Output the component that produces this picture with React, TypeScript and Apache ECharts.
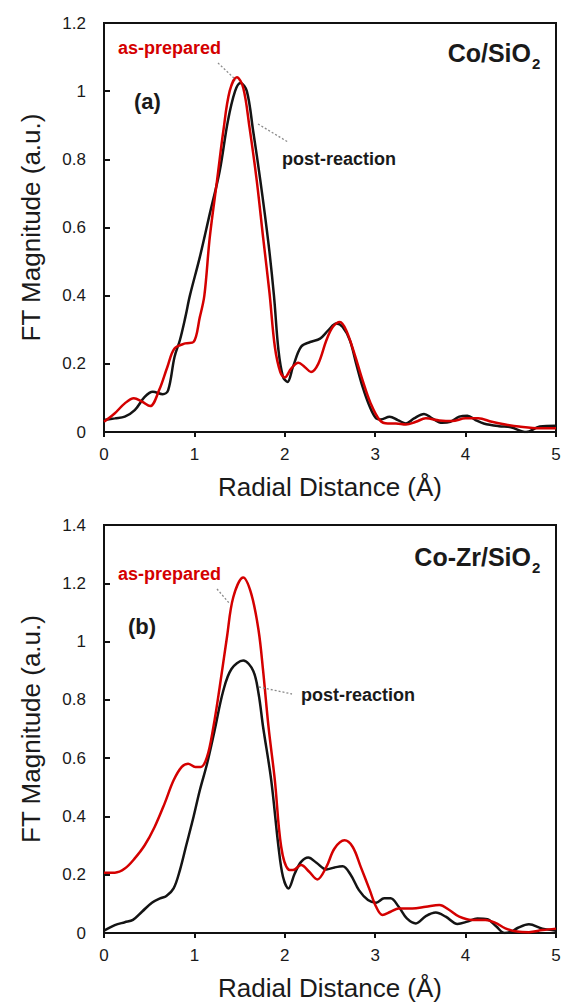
import React, { useEffect, useRef } from "react";
import * as echarts from "echarts";

// ---- Panel (a) Co/SiO2 ----
const aBlackX = [0, 0.12, 0.23, 0.34, 0.45, 0.54, 0.65, 0.71, 0.78, 0.84, 0.9, 0.95, 1.06, 1.17, 1.28, 1.37, 1.45, 1.51, 1.58, 1.65, 1.73, 1.82, 1.88, 1.93, 1.98, 2.03, 2.09, 2.18, 2.28, 2.39, 2.48, 2.57, 2.64, 2.72, 2.79, 2.86, 2.94, 3.01, 3.06, 3.16, 3.25, 3.34, 3.43, 3.54, 3.63, 3.74, 3.83, 3.93, 4.02, 4.11, 4.2, 4.37, 4.5, 4.67, 4.82, 5.0];
const aBlackY = [0.035, 0.04, 0.045, 0.064, 0.103, 0.118, 0.111, 0.123, 0.22, 0.27, 0.337, 0.4, 0.513, 0.64, 0.766, 0.912, 1.0, 1.024, 1.0, 0.883, 0.737, 0.552, 0.4, 0.24, 0.162, 0.147, 0.191, 0.25, 0.264, 0.274, 0.298, 0.318, 0.308, 0.269, 0.2, 0.133, 0.074, 0.04, 0.037, 0.045, 0.035, 0.025, 0.04, 0.053, 0.04, 0.027, 0.03, 0.045, 0.048, 0.035, 0.025, 0.017, 0.014, 0.0, 0.016, 0.018];
const aRedX = [0, 0.12, 0.23, 0.33, 0.42, 0.51, 0.61, 0.7, 0.78, 0.9, 0.99, 1.06, 1.11, 1.17, 1.25, 1.32, 1.39, 1.47, 1.54, 1.61, 1.69, 1.76, 1.83, 1.89, 1.95, 2.0, 2.07, 2.15, 2.22, 2.29, 2.37, 2.46, 2.53, 2.61, 2.68, 2.77, 2.86, 2.95, 3.05, 3.14, 3.23, 3.34, 3.45, 3.56, 3.71, 3.85, 4.0, 4.14, 4.29, 4.44, 4.59, 4.82, 5.0];
const aRedY = [0.03, 0.055, 0.084, 0.099, 0.089, 0.076, 0.123, 0.19, 0.245, 0.26, 0.264, 0.337, 0.4, 0.571, 0.737, 0.883, 1.0, 1.041, 1.01, 0.893, 0.737, 0.571, 0.41, 0.25, 0.176, 0.16, 0.186, 0.203, 0.191, 0.176, 0.2, 0.269, 0.308, 0.323, 0.298, 0.23, 0.152, 0.084, 0.035, 0.025, 0.025, 0.022, 0.03, 0.04, 0.034, 0.032, 0.04, 0.04, 0.03, 0.022, 0.016, 0.011, 0.011];

// ---- Panel (b) Co-Zr/SiO2 ----
const bBlackX = [0, 0.12, 0.23, 0.32, 0.42, 0.53, 0.62, 0.69, 0.77, 0.84, 0.91, 0.99, 1.06, 1.14, 1.22, 1.32, 1.41, 1.54, 1.65, 1.71, 1.76, 1.85, 1.93, 1.98, 2.04, 2.11, 2.18, 2.26, 2.35, 2.46, 2.55, 2.64, 2.73, 2.82, 2.92, 3.01, 3.1, 3.17, 3.26, 3.35, 3.45, 3.56, 3.67, 3.78, 3.91, 4.02, 4.13, 4.24, 4.34, 4.43, 4.51, 4.58, 4.7, 4.85, 5.0];
const bBlackY = [0.008, 0.027, 0.037, 0.045, 0.073, 0.104, 0.119, 0.127, 0.153, 0.216, 0.301, 0.398, 0.49, 0.581, 0.69, 0.832, 0.906, 0.935, 0.9, 0.821, 0.707, 0.524, 0.296, 0.193, 0.153, 0.204, 0.244, 0.259, 0.241, 0.218, 0.225, 0.229, 0.199, 0.147, 0.113, 0.104, 0.119, 0.119, 0.09, 0.05, 0.033, 0.058, 0.07, 0.056, 0.031, 0.039, 0.05, 0.047, 0.022, 0.0, 0.005, 0.018, 0.03, 0.015, 0.008];
const bRedX = [0, 0.12, 0.23, 0.34, 0.45, 0.56, 0.67, 0.77, 0.86, 0.93, 1.01, 1.07, 1.14, 1.21, 1.28, 1.36, 1.43, 1.54, 1.63, 1.71, 1.76, 1.82, 1.89, 1.96, 2.04, 2.09, 2.18, 2.27, 2.36, 2.46, 2.55, 2.66, 2.75, 2.84, 2.94, 3.01, 3.08, 3.17, 3.26, 3.41, 3.56, 3.71, 3.82, 3.93, 4.07, 4.22, 4.33, 4.44, 4.57, 4.7, 4.85, 5.0];
const bRedY = [0.207, 0.207, 0.221, 0.256, 0.301, 0.364, 0.444, 0.524, 0.57, 0.581, 0.57, 0.57, 0.604, 0.707, 0.844, 1.015, 1.152, 1.22, 1.163, 1.038, 0.9, 0.707, 0.524, 0.296, 0.218, 0.216, 0.233, 0.21, 0.184, 0.227, 0.29, 0.318, 0.296, 0.227, 0.147, 0.09, 0.062, 0.073, 0.084, 0.084, 0.09, 0.096, 0.079, 0.056, 0.045, 0.045, 0.035, 0.016, 0.005, 0.003, 0.01, 0.015];

const xTicks = [0, 1, 2, 3, 4, 5];
const yMaxA = 1.2;
const yMaxB = 1.4;
const xTitle = "Radial Distance (Å)";
const yTitle = "FT Magnitude (a.u.)";
const seriesNames = ["post-reaction", "as-prepared"];
const panelTags = ["(a)", "(b)"];
const panelTitles = ["Co/SiO", "Co-Zr/SiO"];

const FONT = "'Liberation Sans', Arial, Helvetica, sans-serif";
const BLACK = "#141414";
const RED = "#d40000";

const zip = (xs: number[], ys: number[]) => xs.map((x, i) => [x, ys[i]]);

export default function App() {
  const ref = useRef<HTMLDivElement>(null);
  useEffect(() => {
    if (!ref.current) return;
    const chart = echarts.init(ref.current, undefined, { renderer: "svg" });
    const grids = [
      { left: 104, top: 23, width: 452, height: 409 },
      { left: 104, top: 525, width: 452, height: 408 },
    ];
    const xAxis = grids.map((_, i) => ({
      type: "value",
      gridIndex: i,
      min: xTicks[0],
      max: xTicks[xTicks.length - 1],
      interval: 1,
      name: xTitle,
      nameLocation: "middle",
      nameGap: 42,
      nameTextStyle: { fontFamily: FONT, fontSize: 26, color: "#1a1a1a" },
      axisLine: { show: true, lineStyle: { color: "#111", width: 2 } },
      axisTick: { show: true, inside: false, length: 5, lineStyle: { color: "#111", width: 2 } },
      axisLabel: { fontFamily: FONT, fontSize: 17, color: "#1a1a1a", margin: 14 },
      splitLine: { show: false },
    }));
    const yAxis = [yMaxA, yMaxB].map((mx, i) => ({
      type: "value",
      gridIndex: i,
      min: 0,
      max: mx,
      interval: 0.2,
      name: yTitle,
      nameLocation: "middle",
      nameGap: 60,
      nameRotate: 90,
      nameTextStyle: { fontFamily: FONT, fontSize: 26, color: "#1a1a1a" },
      axisLine: { show: true, lineStyle: { color: "#111", width: 2 } },
      axisTick: { show: true, inside: true, length: 6, lineStyle: { color: "#111", width: 2 } },
      axisLabel: { fontFamily: FONT, fontSize: 17, color: "#1a1a1a", margin: 18 },
      splitLine: { show: false },
    }));
    const line = (name: string, data: number[][], color: string, idx: number) => ({
      type: "line",
      name,
      xAxisIndex: idx,
      yAxisIndex: idx,
      data,
      showSymbol: false,
      smooth: 0.35,
      lineStyle: { color, width: 2.5 },
      itemStyle: { color },
      z: color === RED ? 3 : 2,
    });
    const txt = (text: string, x: number, y: number, size: number, color: string, align = "left") => ({
      type: "text",
      x,
      y,
      style: {
        text,
        fontFamily: FONT,
        fontSize: size,
        fontWeight: "bold",
        fill: color,
        align,
        verticalAlign: "middle",
      },
      z: 10,
    });
    const lead = (x1: number, y1: number, x2: number, y2: number) => ({
      type: "line",
      shape: { x1, y1, x2, y2 },
      style: { stroke: "#8a8a8a", lineWidth: 1.3, lineDash: [2, 2] },
      z: 10,
    });
    chart.setOption({
      animation: false,
      backgroundColor: "#ffffff",
      grid: grids.map((g) => ({ ...g, show: true, borderColor: "#111", borderWidth: 2, backgroundColor: "transparent" })),
      xAxis,
      yAxis,
      series: [
        line(seriesNames[0], zip(aBlackX, aBlackY), BLACK, 0),
        line(seriesNames[1], zip(aRedX, aRedY), RED, 0),
        line(seriesNames[0], zip(bBlackX, bBlackY), BLACK, 1),
        line(seriesNames[1], zip(bRedX, bRedY), RED, 1),
      ],
      graphic: [
        // panel a
        txt(seriesNames[1], 118, 48, 18, RED),
        txt(seriesNames[0], 282, 159, 18, "#1a1a1a"),
        txt(panelTags[0], 134, 101, 22, "#1a1a1a"),
        txt(panelTitles[0], 531, 53, 25, "#1a1a1a", "right"),
        txt("2", 532, 63, 15, "#1a1a1a"),
        lead(218, 63, 236, 80),
        lead(258, 124, 288, 142),
        // panel b
        txt(seriesNames[1], 118, 574, 18, RED),
        txt(seriesNames[0], 301, 695, 18, "#1a1a1a"),
        txt(panelTags[1], 128, 626, 22, "#1a1a1a"),
        txt(panelTitles[1], 531, 557, 25, "#1a1a1a", "right"),
        txt("2", 532, 567, 15, "#1a1a1a"),
        lead(217, 589, 230, 604),
        lead(259, 687, 292, 694),
      ],
    });
    return () => chart.dispose();
  }, []);
  return (
    <div
      ref={ref}
      style={{ position: "absolute", left: 0, top: 0, width: 564, height: 1006 }}
    />
  );
}
